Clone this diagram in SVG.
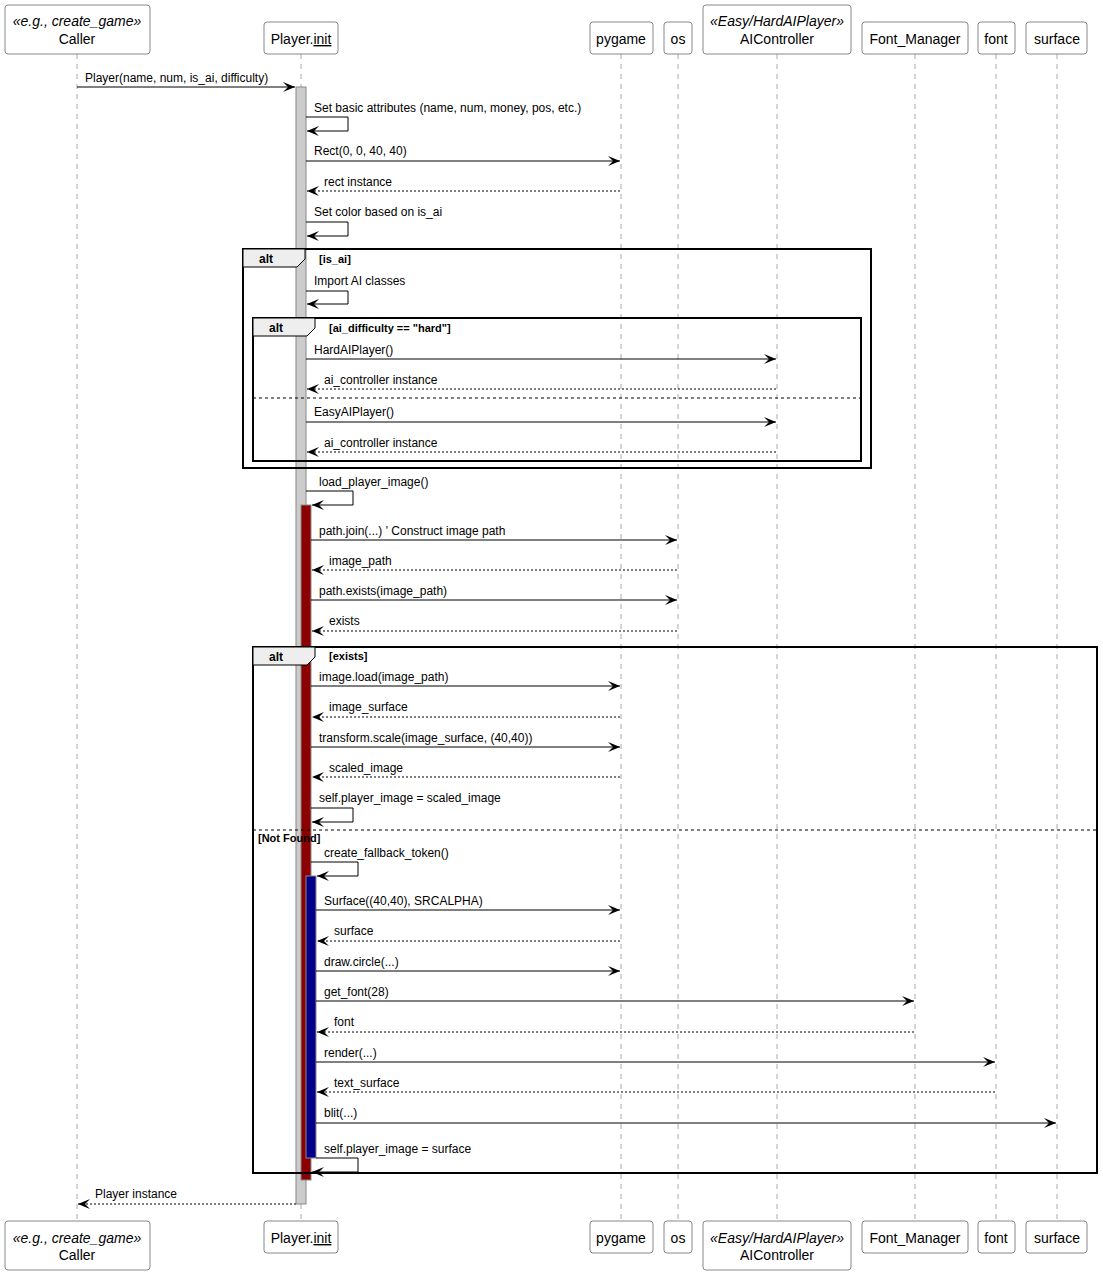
<svg xmlns="http://www.w3.org/2000/svg" width="1103" height="1275" viewBox="0 0 1103 1275">
<style>
text{font-family:"Liberation Sans",Arial,sans-serif;fill:#000}
.m{font-size:12px}
.h{font-size:14px;text-anchor:middle}
.box{fill:#fff;stroke:#888;stroke-width:1}
.ll{stroke:#aaa;stroke-dasharray:5,5;stroke-width:1}
.s{stroke:#000;stroke-width:1;fill:none}
.d{stroke:#000;stroke-width:1;fill:none;stroke-dasharray:2,2}
.fr{fill:none;stroke:#000;stroke-width:2}
.tab{fill:#eee;stroke:#000;stroke-width:1}
.fl{font-size:12px;font-weight:bold}
.g{font-size:11px;font-weight:bold}
.div{stroke:#000;stroke-dasharray:3,3}
</style>
<defs>
<marker id="a" viewBox="0 0 12 10" refX="12" refY="5" markerWidth="12" markerHeight="10" markerUnits="userSpaceOnUse" orient="auto"><path d="M0,0 L12,5 L0,10 L5,5 Z" fill="#000"/></marker>
</defs>
<g id="lifelines">
<line class="ll" x1="77" y1="54" x2="77" y2="1221"/>
<line class="ll" x1="301" y1="54" x2="301" y2="1221"/>
<line class="ll" x1="621" y1="54" x2="621" y2="1221"/>
<line class="ll" x1="678" y1="54" x2="678" y2="1221"/>
<line class="ll" x1="777" y1="54" x2="777" y2="1221"/>
<line class="ll" x1="915" y1="54" x2="915" y2="1221"/>
<line class="ll" x1="996" y1="54" x2="996" y2="1221"/>
<line class="ll" x1="1057" y1="54" x2="1057" y2="1221"/>
</g>
<g id="caller"><rect class="box" x="5" y="5" width="145" height="49" rx="3"/><text class="h" x="77" y="26" font-style="italic" font-size="13">«e.g., create_game»</text><text class="h" x="77" y="44">Caller</text>
<rect class="box" x="5" y="1221" width="145" height="49" rx="3"/><text class="h" x="77" y="1243" font-style="italic" font-size="13">«e.g., create_game»</text><text class="h" x="77" y="1260">Caller</text></g>
<g id="player"><rect class="box" x="264" y="22" width="74" height="32" rx="3"/><text class="h" x="301" y="44">Player.<tspan text-decoration="underline">init</tspan></text>
<rect class="box" x="264" y="1221" width="74" height="32" rx="3"/><text class="h" x="301" y="1243">Player.<tspan text-decoration="underline">init</tspan></text></g>
<g id="pygame"><rect class="box" x="590" y="22" width="63" height="32" rx="3"/><text class="h" x="621" y="44">pygame</text>
<rect class="box" x="590" y="1221" width="63" height="32" rx="3"/><text class="h" x="621" y="1243">pygame</text></g>
<g id="os"><rect class="box" x="664" y="22" width="28" height="32" rx="3"/><text class="h" x="678" y="44">os</text>
<rect class="box" x="664" y="1221" width="28" height="32" rx="3"/><text class="h" x="678" y="1243">os</text></g>
<g id="ai"><rect class="box" x="703" y="5" width="148" height="49" rx="3"/><text class="h" x="777" y="26" font-style="italic" font-size="13">«Easy/HardAIPlayer»</text><text class="h" x="777" y="44">AIController</text>
<rect class="box" x="703" y="1221" width="148" height="49" rx="3"/><text class="h" x="777" y="1243" font-style="italic" font-size="13">«Easy/HardAIPlayer»</text><text class="h" x="777" y="1260">AIController</text></g>
<g id="fm"><rect class="box" x="862" y="22" width="106" height="32" rx="3"/><text class="h" x="915" y="44">Font_Manager</text>
<rect class="box" x="862" y="1221" width="106" height="32" rx="3"/><text class="h" x="915" y="1243">Font_Manager</text></g>
<g id="font"><rect class="box" x="978" y="22" width="37" height="32" rx="3"/><text class="h" x="996" y="44">font</text>
<rect class="box" x="978" y="1221" width="37" height="32" rx="3"/><text class="h" x="996" y="1243">font</text></g>
<g id="surface"><rect class="box" x="1026" y="22" width="61" height="32" rx="3"/><text class="h" x="1057" y="44">surface</text>
<rect class="box" x="1026" y="1221" width="61" height="32" rx="3"/><text class="h" x="1057" y="1243">surface</text></g>
<g id="activations">
<rect x="296" y="87" width="10" height="1117" fill="#ccc" stroke="#888"/>
<rect x="301" y="505" width="10" height="675" fill="#8b0000" stroke="#888"/>
<rect x="306" y="876" width="10" height="282" fill="#00008b" stroke="#888"/>
</g>
<g id="frames">
<rect class="fr" x="243" y="249" width="628" height="219"/>
<path class="tab" d="M243,249 H305 V259 L297,267 H243 Z"/>
<text class="fl" x="259" y="263">alt</text><text class="g" x="319" y="263">[is_ai]</text>
<rect class="fr" x="253" y="318" width="608" height="143"/>
<path class="tab" d="M253,318 H315 V328 L307,336 H253 Z"/>
<text class="fl" x="269" y="332">alt</text><text class="g" x="329" y="332">[ai_difficulty == "hard"]</text>
<line class="div" x1="253" y1="398" x2="861" y2="398"/>
<rect class="fr" x="253" y="647" width="844" height="526"/>
<path class="tab" d="M253,647 H315 V657 L307,665 H253 Z"/>
<text class="fl" x="269" y="661">alt</text><text class="g" x="329" y="660">[exists]</text>
<line class="div" x1="253" y1="830" x2="1097" y2="830"/>
<text class="g" x="258" y="842">[Not Found]</text>
</g>
<g id="connectors" class="m">
<line class="s" x1="77" y1="87" x2="295" y2="87" marker-end="url(#a)"/><text x="85" y="82">Player(name, num, is_ai, difficulty)</text>
<path class="s" d="M306,117 H348 V131 H307" marker-end="url(#a)"/><text x="314" y="112">Set basic attributes (name, num, money, pos, etc.)</text>
<line class="s" x1="306" y1="161" x2="620" y2="161" marker-end="url(#a)"/><text x="314" y="155">Rect(0, 0, 40, 40)</text>
<line class="d" x1="620" y1="191" x2="307" y2="191" marker-end="url(#a)"/><text x="324" y="186">rect instance</text>
<path class="s" d="M306,222 H348 V236 H307" marker-end="url(#a)"/><text x="314" y="216">Set color based on is_ai</text>
<path class="s" d="M306,291 H348 V304 H307" marker-end="url(#a)"/><text x="314" y="285">Import AI classes</text>
<line class="s" x1="306" y1="359" x2="776" y2="359" marker-end="url(#a)"/><text x="314" y="354">HardAIPlayer()</text>
<line class="d" x1="776" y1="389" x2="307" y2="389" marker-end="url(#a)"/><text x="324" y="384">ai_controller instance</text>
<line class="s" x1="306" y1="422" x2="776" y2="422" marker-end="url(#a)"/><text x="314" y="416">EasyAIPlayer()</text>
<line class="d" x1="776" y1="452" x2="307" y2="452" marker-end="url(#a)"/><text x="324" y="447">ai_controller instance</text>
<path class="s" d="M306,491 H353 V505 H312" marker-end="url(#a)"/><text x="319" y="486">load_player_image()</text>
<line class="s" x1="311" y1="540" x2="677" y2="540" marker-end="url(#a)"/><text x="319" y="535">path.join(...) ' Construct image path</text>
<line class="d" x1="677" y1="570" x2="312" y2="570" marker-end="url(#a)"/><text x="329" y="565">image_path</text>
<line class="s" x1="311" y1="600" x2="677" y2="600" marker-end="url(#a)"/><text x="319" y="595">path.exists(image_path)</text>
<line class="d" x1="677" y1="631" x2="312" y2="631" marker-end="url(#a)"/><text x="329" y="625">exists</text>
<line class="s" x1="311" y1="686" x2="620" y2="686" marker-end="url(#a)"/><text x="319" y="681">image.load(image_path)</text>
<line class="d" x1="620" y1="717" x2="312" y2="717" marker-end="url(#a)"/><text x="329" y="711">image_surface</text>
<line class="s" x1="311" y1="747" x2="620" y2="747" marker-end="url(#a)"/><text x="319" y="742">transform.scale(image_surface, (40,40))</text>
<line class="d" x1="620" y1="777" x2="312" y2="777" marker-end="url(#a)"/><text x="329" y="772">scaled_image</text>
<path class="s" d="M311,808 H353 V822 H312" marker-end="url(#a)"/><text x="319" y="802">self.player_image = scaled_image</text>
<path class="s" d="M311,862 H358 V876 H317" marker-end="url(#a)"/><text x="324" y="857">create_fallback_token()</text>
<line class="s" x1="316" y1="910" x2="620" y2="910" marker-end="url(#a)"/><text x="324" y="905">Surface((40,40), SRCALPHA)</text>
<line class="d" x1="620" y1="941" x2="317" y2="941" marker-end="url(#a)"/><text x="334" y="935">surface</text>
<line class="s" x1="316" y1="971" x2="620" y2="971" marker-end="url(#a)"/><text x="324" y="966">draw.circle(...)</text>
<line class="s" x1="316" y1="1001" x2="914" y2="1001" marker-end="url(#a)"/><text x="324" y="996">get_font(28)</text>
<line class="d" x1="914" y1="1032" x2="317" y2="1032" marker-end="url(#a)"/><text x="334" y="1026">font</text>
<line class="s" x1="316" y1="1062" x2="995" y2="1062" marker-end="url(#a)"/><text x="324" y="1057">render(...)</text>
<line class="d" x1="995" y1="1092" x2="317" y2="1092" marker-end="url(#a)"/><text x="334" y="1087">text_surface</text>
<line class="s" x1="316" y1="1123" x2="1056" y2="1123" marker-end="url(#a)"/><text x="324" y="1117">blit(...)</text>
<path class="s" d="M316,1158 H358 V1172 H312" marker-end="url(#a)"/><text x="324" y="1153">self.player_image = surface</text>
<line class="d" x1="296" y1="1204" x2="78" y2="1204" marker-end="url(#a)"/><text x="95" y="1198">Player instance</text>
</g>
</svg>
